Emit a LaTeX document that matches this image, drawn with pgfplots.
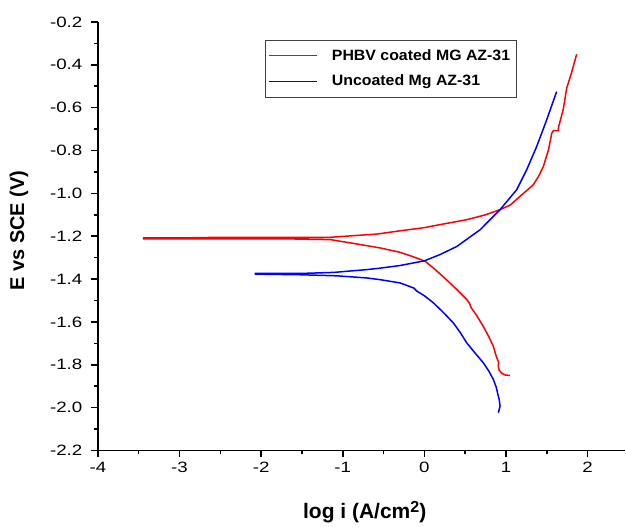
\documentclass[border=0pt]{standalone}
\usepackage{fontspec}
\setmainfont{Liberation Sans}
\usepackage{graphicx}
\usepackage{pgfplots}
\pgfplotsset{compat=1.18}
\begin{document}
\begin{tikzpicture}
\begin{axis}[
  at={(0pt,0pt)}, anchor=south west,
  scale only axis, width=528pt, height=429pt,
  xmin=-4, xmax=2.46, ymin=-2.2, ymax=-0.2,
  axis x line*=bottom, axis y line*=left,
  axis line style={line width=1.6pt},
  tick align=outside, major tick length=7pt, minor tick length=4pt,
  every tick/.style={line width=1.6pt, black},
  xtick={-4,-3,-2,-1,0,1,2},
  ytick={-2.2,-2.0,-1.8,-1.6,-1.4,-1.2,-1.0,-0.8,-0.6,-0.4,-0.2},
  minor x tick num=1, minor y tick num=1,
  /pgf/number format/assume math mode=true,
  ticklabel style={font=\fontsize{15}{18}\selectfont},
  xticklabel={\scalebox{1.25}[1]{\pgfmathprintnumber{\tick}}},
  yticklabel={\scalebox{1.25}[1]{\pgfmathprintnumber[fixed,fixed zerofill,precision=1]{\tick}}},
  xticklabel style={yshift=-1pt},
  yticklabel style={xshift=-5pt},
  every axis x label/.style={at={(axis description cs:0.506,-0.145)}, anchor=center},
  every axis y label/.style={at={(axis description cs:-0.1496,0.513)}, anchor=center, rotate=90},
  xlabel={\fontsize{21}{24}\selectfont\bfseries log i (A/cm\raisebox{0.55ex}{\fontsize{16}{18}\selectfont 2})},
  ylabel={\fontsize{20}{23}\selectfont\bfseries E vs SCE (V)},
  legend style={at={(0.316,0.958)}, anchor=north west, draw=black!75,
    font=\fontsize{15}{18}\selectfont\bfseries, inner xsep=4pt, inner ysep=7.5pt, row sep=9pt,
    /tikz/every odd column/.append style={column sep=12pt}},
  legend cell align=left,
  legend image code/.code={\draw[mark repeat=2,mark phase=2,#1] plot coordinates {(0pt,0pt) (24pt,0pt) (48pt,0pt)};},
  legend image post style={line width=1.3pt},
]
\addplot[red, line width=1.5pt] coordinates {
(1.05,-1.850) (0.99,-1.848) (0.95,-1.840) (0.915,-1.825) (0.905,-1.805) (0.91,-1.79)
(0.88,-1.76) (0.845,-1.714) (0.79,-1.67) (0.72,-1.62) (0.64,-1.57) (0.57,-1.532)
(0.555,-1.515) (0.52,-1.496) (0.40,-1.45) (0.27,-1.403) (0.13,-1.355) (0.01,-1.317)
(-0.13,-1.297) (-0.30,-1.275) (-0.54,-1.255) (-0.80,-1.238) (-1.15,-1.216) (-1.6,-1.213)
(-2.66,-1.212) (-3.44,-1.212) (-3.44,-1.208) (-2.66,-1.207) (-2.64,-1.205) (-1.6,-1.205)
(-1.15,-1.205) (-0.58,-1.19) (-0.3,-1.175) (0.0,-1.16) (0.19,-1.146) (0.519,-1.123)
(0.75,-1.10) (0.927,-1.076) (1.05,-1.055) (1.171,-1.014) (1.26,-0.985) (1.334,-0.96)
(1.40,-0.92) (1.457,-0.875) (1.52,-0.797) (1.56,-0.72) (1.58,-0.707) (1.64,-0.707)
(1.645,-0.688) (1.70,-0.61) (1.743,-0.509) (1.80,-0.44) (1.865,-0.351)
};
\addlegendentry{\scalebox{1.06}[1]{PHBV coated MG AZ-31}}
\addplot[blue, line width=1.5pt] coordinates {
(0.906,-2.024) (0.927,-1.993) (0.915,-1.96) (0.906,-1.947) (0.88,-1.905) (0.845,-1.869)
(0.79,-1.83) (0.722,-1.791) (0.62,-1.745) (0.519,-1.698) (0.44,-1.65) (0.355,-1.605)
(0.23,-1.555) (0.11,-1.511) (0.0,-1.478) (-0.09,-1.457) (-0.13,-1.442) (-0.3,-1.418)
(-0.54,-1.403) (-0.705,-1.395) (-1.07,-1.385) (-1.52,-1.380) (-2.07,-1.377)
(-2.07,-1.374) (-1.52,-1.374) (-1.11,-1.369) (-0.705,-1.356) (-0.54,-1.349)
(-0.3,-1.337) (0.0,-1.315) (0.19,-1.286) (0.397,-1.248) (0.682,-1.17) (0.927,-1.076)
(1.131,-0.983) (1.253,-0.89) (1.376,-0.781) (1.498,-0.657) (1.62,-0.525)
};
\addlegendentry{\scalebox{1.06}[1]{Uncoated Mg AZ-31}}
\end{axis}
\path[use as bounding box] (-98pt,-73pt) rectangle (528pt,451pt);
\end{tikzpicture}
\end{document}
